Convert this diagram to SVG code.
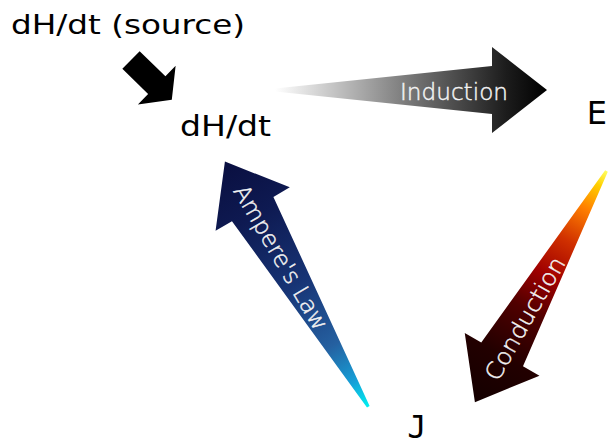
<svg xmlns="http://www.w3.org/2000/svg" width="608" height="444" viewBox="0 0 608 444">
  <defs>
    <style>
      .node { font-family: "DejaVu Sans", "Liberation Sans", sans-serif; fill: #000; }
      .mono { font-family: "DejaVu Sans Mono", "Liberation Mono", monospace; fill: #000; }
      .lbl { font-family: "DejaVu Sans", "Liberation Sans", sans-serif; font-size: 23px; font-weight: 300; fill: #f2f2f2; stroke: #f2f2f2; stroke-width: 0.45; text-anchor: middle; }
    </style>
    <linearGradient id="gInd" x1="0" y1="0" x2="1" y2="0">
      <stop offset="0" stop-color="#ffffff"/>
      <stop offset="0.5" stop-color="#767676"/>
      <stop offset="0.85" stop-color="#1c1c1c"/>
      <stop offset="1" stop-color="#000000"/>
    </linearGradient>
    <linearGradient id="gCond" x1="0" y1="0" x2="1" y2="0">
      <stop offset="0" stop-color="#ffff60"/>
      <stop offset="0.06" stop-color="#ffd000"/>
      <stop offset="0.16" stop-color="#ff8000"/>
      <stop offset="0.3" stop-color="#d03000"/>
      <stop offset="0.45" stop-color="#a00000"/>
      <stop offset="0.6" stop-color="#500000"/>
      <stop offset="0.8" stop-color="#220000"/>
      <stop offset="1" stop-color="#140000"/>
    </linearGradient>
    <linearGradient id="gAmp" x1="0" y1="0" x2="1" y2="0">
      <stop offset="0" stop-color="#00f0f0"/>
      <stop offset="0.1" stop-color="#15a0d8"/>
      <stop offset="0.25" stop-color="#2560a0"/>
      <stop offset="0.5" stop-color="#173475"/>
      <stop offset="0.78" stop-color="#0e1a52"/>
      <stop offset="1" stop-color="#0a0f40"/>
    </linearGradient>
  </defs>
  <rect width="608" height="444" fill="#ffffff"/>

  <g id="connectors">
    <g id="source-arrow">
      <polygon transform="translate(131,60) rotate(44.3)" points="0,-12.4 36,-12.4 36,-27 57,0 36,27 36,12.4 0,12.4" fill="#000000"/>
    </g>
    <g id="induction">
      <polygon transform="translate(275,90)" points="0,-1.5 217,-24 217,-43 272,0 217,43 217,24 0,1.5" fill="url(#gInd)"/>
      <text class="lbl" x="454" y="100" textLength="108" lengthAdjust="spacingAndGlyphs">Induction</text>
    </g>
    <g id="conduction">
      <polygon transform="translate(606.5,171) rotate(119.65)" points="0,-1.5 211,-24 211,-43 266,0 211,43 211,24 0,1.5" fill="url(#gCond)"/>
      <text class="lbl" transform="translate(525,318.5) rotate(-60.35)" x="0" y="8" textLength="138" lengthAdjust="spacingAndGlyphs">Conduction</text>
    </g>
    <g id="ampere">
      <polygon transform="translate(368.3,406.7) rotate(-120.32)" points="0,-1.5 229,-24 229,-43 284,0 229,43 229,24 0,1.5" fill="url(#gAmp)"/>
      <text class="lbl" transform="translate(281,257.5) rotate(59.68)" x="0" y="8" textLength="164" lengthAdjust="spacingAndGlyphs">Ampere's Law</text>
    </g>
  </g>

  <g id="node-source">
    <text class="node" x="11" y="34" font-size="27" textLength="234" lengthAdjust="spacingAndGlyphs">dH/dt (source)</text>
  </g>
  <g id="node-dHdt">
    <text class="node" x="180" y="136" font-size="28" textLength="91" lengthAdjust="spacingAndGlyphs">dH/dt</text>
  </g>
  <g id="node-E">
    <text class="node" x="586.7" y="124" font-size="32">E</text>
  </g>
  <g id="node-J">
    <text class="mono" x="417" y="437.5" font-size="32" text-anchor="middle">J</text>
  </g>
</svg>
